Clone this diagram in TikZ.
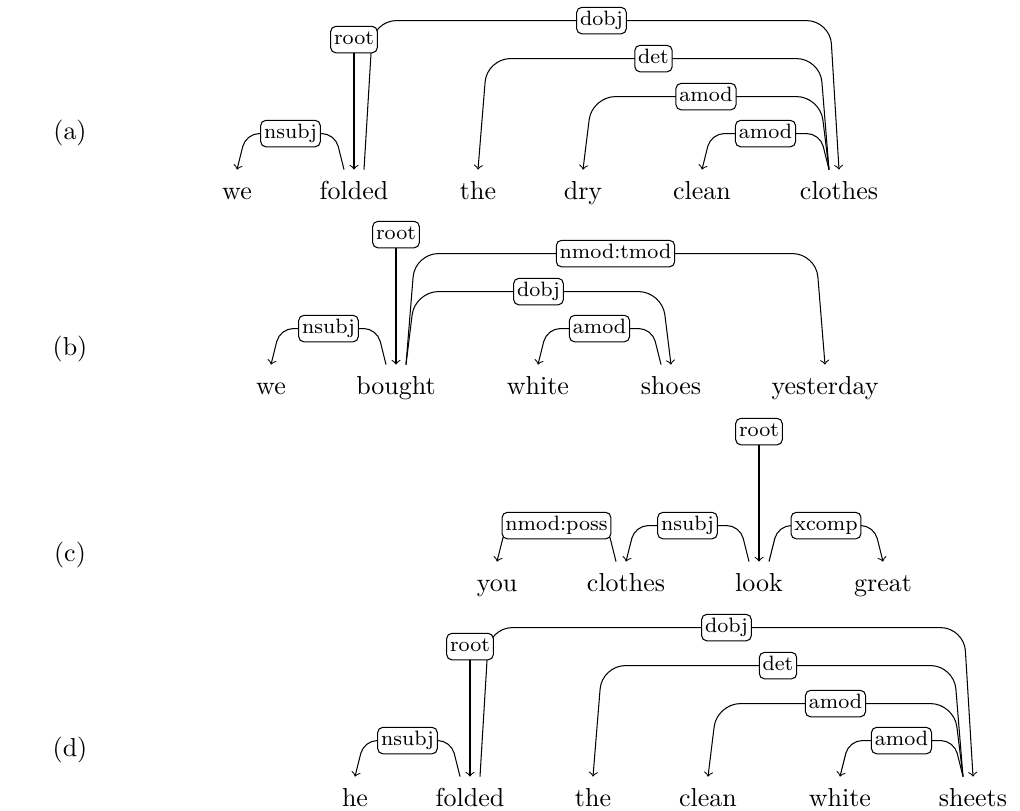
\documentclass[tikz,border=0pt]{standalone}
\usetikzlibrary{calc}

\tikzset{
	word/.style={anchor=base, inner sep=0pt, text height=11.5pt},
	lab/.style={draw, fill=white, rounded corners=2pt, font=\footnotesize, inner sep=1.3pt, text height=5.8pt, text depth=1.8pt},
	dep/.style={->, rounded corners=5pt},
	deplong/.style={->, rounded corners=9pt}
}

\begin{document}
\begin{tikzpicture}[x=0.385pt, y=0.385pt]
	\useasboundingbox (0, 0) rectangle (1020, 811);

	% Row labels
	\node (labA) at (70, 678) {(a)};
	\node (labB) at (70, 462) {(b)};
	\node (labC) at (70, 256) {(c)};
	\node (labD) at (70, 61) {(d)};

	% (a) words
	\node[word] (weA) at (237, 611) {we};
	\node[word] (foldedA) at (354, 611) {folded};
	\node[word] (theA) at (478, 611) {the};
	\node[word] (dryA) at (583, 611) {dry};
	\node[word] (cleanA) at (702, 611) {clean};
	\node[word] (clothesA) at (839, 611) {clothes};

	% (a) arcs
	\draw[dep] ($(foldedA.north)+(-10, 0)$) -- ++(-9, 36) -- ($(weA.north)+(9, 36)$) node[lab, midway] {nsubj} -- (weA.north);
	\draw[deplong] ($(foldedA.north)+(10, 0)$) -- ++(9, 149) -- ($(clothesA.north)+(-9, 149)$) node[lab, midway] {dobj} -- (clothesA.north);
	\draw[deplong] ($(clothesA.north)+(-10, 0)$) -- ++(-9, 111) -- ($(theA.north)+(9, 111)$) node[lab, midway] {det} -- (theA.north);
	\draw[deplong] ($(clothesA.north)+(-10, 0)$) -- ++(-9, 73) -- ($(dryA.north)+(9, 73)$) node[lab, midway] {amod} -- (dryA.north);
	\draw[dep] ($(clothesA.north)+(-10, 0)$) -- ++(-9, 36) -- ($(cleanA.north)+(9, 36)$) node[lab, midway] {amod} -- (cleanA.north);
	\node[lab] (rootA) at ($(foldedA.north)+(0, 130)$) {root};
	\draw[->] (rootA) -- (foldedA.north);

	% (b) words
	\node[word] (weB) at (271, 416) {we};
	\node[word] (boughtB) at (396, 416) {bought};
	\node[word] (whiteB) at (538, 416) {white};
	\node[word] (shoesB) at (671, 416) {shoes};
	\node[word] (yesterdayB) at (825, 416) {yesterday};

	% (b) arcs
	\draw[dep] ($(boughtB.north)+(-10, 0)$) -- ++(-9, 36) -- ($(weB.north)+(9, 36)$) node[lab, midway] {nsubj} -- (weB.north);
	\draw[deplong] ($(boughtB.north)+(10, 0)$) -- ++(9, 73) -- ($(shoesB.north)+(-9, 73)$) node[lab, midway] {dobj} -- (shoesB.north);
	\draw[deplong] ($(boughtB.north)+(10, 0)$) -- ++(9, 111) -- ($(yesterdayB.north)+(-9, 111)$) node[lab, midway] {nmod:tmod} -- (yesterdayB.north);
	\draw[dep] ($(shoesB.north)+(-10, 0)$) -- ++(-9, 36) -- ($(whiteB.north)+(9, 36)$) node[lab, midway] {amod} -- (whiteB.north);
	\node[lab] (rootB) at ($(boughtB.north)+(0, 130)$) {root};
	\draw[->] (rootB) -- (boughtB.north);

	% (c) words
	\node[word] (youC) at (497, 219) {you};
	\node[word] (clothesC) at (626, 219) {clothes};
	\node[word] (lookC) at (759, 219) {look};
	\node[word] (greatC) at (883, 219) {great};

	% (c) arcs
	\draw[dep] ($(clothesC.north)+(-10, 0)$) -- ++(-9, 36) -- ($(youC.north)+(9, 36)$) node[lab, midway] {nmod:poss} -- (youC.north);
	\draw[dep] ($(lookC.north)+(-10, 0)$) -- ++(-9, 36) -- ($(clothesC.north)+(9, 36)$) node[lab, midway] {nsubj} -- (clothesC.north);
	\draw[dep] ($(lookC.north)+(10, 0)$) -- ++(9, 36) -- ($(greatC.north)+(-9, 36)$) node[lab, midway] {xcomp} -- (greatC.north);
	\node[lab] (rootC) at ($(lookC.north)+(0, 130)$) {root};
	\draw[->] (rootC) -- (lookC.north);

	% (d) words
	\node[word] (heD) at (355, 4) {he};
	\node[word] (foldedD) at (470, 4) {folded};
	\node[word] (theD) at (593, 4) {the};
	\node[word] (cleanD) at (708, 4) {clean};
	\node[word] (whiteD) at (840, 4) {white};
	\node[word] (sheetsD) at (973, 4) {sheets};

	% (d) arcs
	\draw[dep] ($(foldedD.north)+(-10, 0)$) -- ++(-9, 36) -- ($(heD.north)+(9, 36)$) node[lab, midway] {nsubj} -- (heD.north);
	\draw[deplong] ($(foldedD.north)+(10, 0)$) -- ++(9, 149) -- ($(sheetsD.north)+(-9, 149)$) node[lab, midway] {dobj} -- (sheetsD.north);
	\draw[deplong] ($(sheetsD.north)+(-10, 0)$) -- ++(-9, 111) -- ($(theD.north)+(9, 111)$) node[lab, midway] {det} -- (theD.north);
	\draw[deplong] ($(sheetsD.north)+(-10, 0)$) -- ++(-9, 73) -- ($(cleanD.north)+(9, 73)$) node[lab, midway] {amod} -- (cleanD.north);
	\draw[dep] ($(sheetsD.north)+(-10, 0)$) -- ++(-9, 36) -- ($(whiteD.north)+(9, 36)$) node[lab, midway] {amod} -- (whiteD.north);
	\node[lab] (rootD) at ($(foldedD.north)+(0, 130)$) {root};
	\draw[->] (rootD) -- (foldedD.north);
\end{tikzpicture}
\end{document}
